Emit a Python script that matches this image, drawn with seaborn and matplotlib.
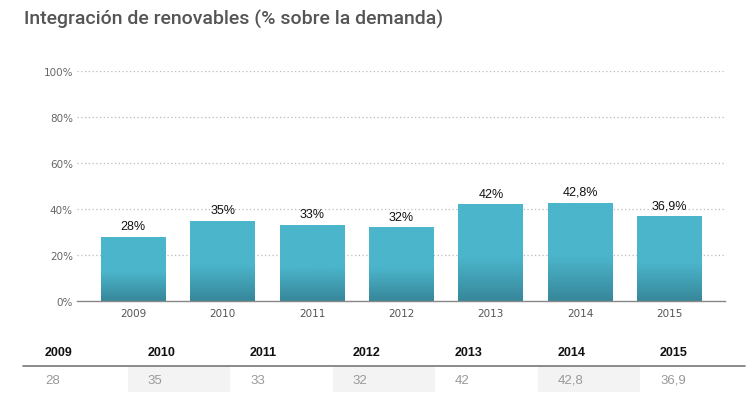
import numpy as np
import matplotlib.pyplot as plt
import seaborn as sns
from matplotlib.colors import LinearSegmentedColormap
from matplotlib.patches import Rectangle
from matplotlib.lines import Line2D

years = ['2009', '2010', '2011', '2012', '2013', '2014', '2015']
values = [28, 35, 33, 32, 42, 42.8, 36.9]
value_labels = ['28', '35', '33', '32', '42', '42,8', '36,9']
yticks = [0, 20, 40, 60, 80, 100]

sns.set_style('white')
plt.rcParams['font.family'] = ['Liberation Sans', 'DejaVu Sans']

fig = plt.figure(figsize=(7.54, 4.06), dpi=100)
ax = fig.add_axes([77 / 754, 1 - 302 / 406, 648 / 754, 230 / 406])

sns.barplot(x=years, y=values, color='#4BB5CB', width=0.727, ax=ax,
            saturation=1, edgecolor='none')

# vertical gradient in the lower part of each bar
cmap = LinearSegmentedColormap.from_list('bar', ['#37879A', '#4BB5CB'])
grad = np.linspace(0, 1, 200).reshape(-1, 1)
grad = np.clip(grad / 0.45, 0, 1)
for patch in ax.patches:
    x0, y0 = patch.get_x(), patch.get_y()
    w, h = patch.get_width(), patch.get_height()
    im = ax.imshow(grad, cmap=cmap, origin='lower', aspect='auto',
                   extent=(x0, x0 + w, y0, y0 + h), zorder=2)
    im.set_clip_path(patch)

ax.set_xlim(-0.63, 6.62)
ax.set_ylim(0, 100)
ax.set_yticks(yticks)
ax.set_yticklabels([f'{t}%' for t in yticks], family='DejaVu Sans',
                   fontsize=7.5, color='#666666')
ax.tick_params(axis='x', labelsize=7.5, colors='#555555', length=0, pad=5)
ax.tick_params(axis='y', length=0, pad=3)
for lab in ax.get_xticklabels():
    lab.set_family('DejaVu Sans')
for t in yticks[1:]:
    ax.axhline(t, color='#BBBBBB', lw=0.9, ls=(0, (1, 2)), zorder=0)
for s in ['top', 'right', 'left']:
    ax.spines[s].set_visible(False)
ax.spines['bottom'].set_color('#888888')
ax.spines['bottom'].set_linewidth(1)
ax.set_xlabel('')
ax.set_ylabel('')

for i, (v, lab) in enumerate(zip(values, value_labels)):
    ax.text(i, v + 2, lab + '%', ha='center', va='bottom', fontsize=9,
            color='#111111')

fig.text(24 / 754, 1 - 19 / 406, 'Integración de renovables (% sobre la demanda)',
         family=['Roboto', 'DejaVu Sans'], fontweight='medium', fontsize=14,
         color='#555555', va='center', ha='left')

# data table below the chart
col_w = 102.5
for i, (yr, lab) in enumerate(zip(years, value_labels)):
    left = 25 + i * col_w
    if i % 2 == 1:
        fig.patches.append(Rectangle((left / 754, 1 - 393 / 406),
                                     col_w / 754, 26 / 406,
                                     transform=fig.transFigure,
                                     facecolor='#F3F3F3', edgecolor='none'))
    fig.text((left + 20) / 754, 1 - 353 / 406, yr,
             fontweight='bold', fontsize=9, color='#111111', va='center')
    fig.text((left + 20) / 754, 1 - 381 / 406, lab,
             fontsize=9.5, color='#999999', va='center')
fig.lines.append(Line2D([23 / 754, 745 / 754], [1 - 367 / 406, 1 - 367 / 406],
                        transform=fig.transFigure, color='#777777', lw=1.2))

plt.savefig('out.png', dpi=100)
